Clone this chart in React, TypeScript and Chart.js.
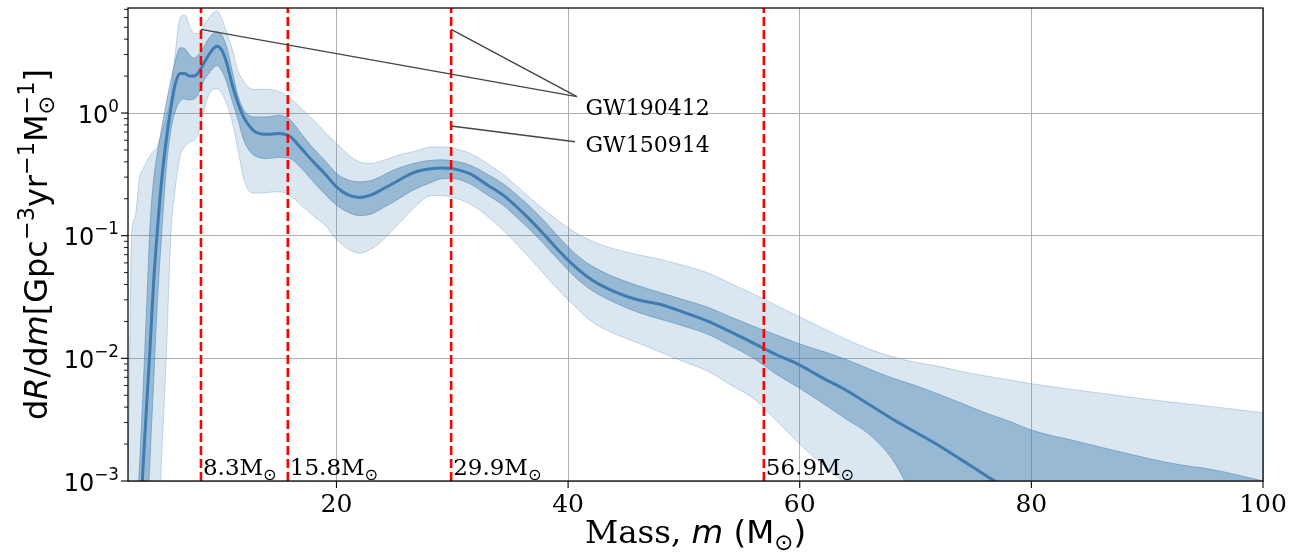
import React, { useEffect, useRef } from "react";
import { Chart, registerables } from "chart.js";

Chart.register(...registerables);

// ---------------- data ----------------
const MASS = [
  2.0, 2.15, 2.3, 2.6, 3.0, 3.3, 3.6, 3.9, 4.2, 4.5,
  4.9, 5.3, 5.7, 6.1, 6.5, 6.9, 7.3, 7.7, 8.1, 8.5,
  8.9, 9.3, 9.7, 10.1, 10.5, 11.0, 11.5, 12.0, 12.5, 13.0,
  14, 15, 16, 17, 18, 19, 20, 21, 22, 23,
  24, 25, 26, 27, 28, 29, 30,
  31.5, 33, 34.5, 36, 37.5, 39, 40.5, 42,
  44, 46, 48, 50, 52, 54, 56, 58, 60, 62,
  64, 66, 68, 70, 72, 74, 76, 78, 80,
  84, 88, 92, 96, 100,
];

const MEDIAN = [
  1e-5, 1.5e-5, 2.2e-5, 6e-5, 3.5e-4, 1.3e-3, 4e-3, 0.012, 0.04, 0.1,
  0.28, 0.6, 1.1, 1.75, 2.1, 2.1, 2.0, 2.0, 2.15, 2.5,
  2.9, 3.3, 3.5, 3.25, 2.6, 1.7, 1.2, 0.92, 0.78, 0.7,
  0.67, 0.68, 0.64, 0.51, 0.4, 0.32, 0.25, 0.215, 0.205, 0.215,
  0.24, 0.27, 0.305, 0.335, 0.35, 0.357, 0.352,
  0.32, 0.26, 0.21, 0.157, 0.113, 0.079, 0.057, 0.044,
  0.035, 0.03, 0.0275, 0.0237, 0.0202, 0.0165, 0.0133, 0.0107, 0.0088, 0.0069,
  0.0055, 0.0042, 0.0032, 0.0025, 0.00195, 0.00148, 0.00112, 0.00085, 0.00065,
  0.0004, 0.00025, 0.00015, 0.0001, 0.00006,
];

const UPPER_50 = [
  3e-5, 4.5e-5, 8e-5, 3e-4, 1.4e-3, 5.5e-3, 0.025, 0.12, 0.28, 0.45,
  0.75, 1.2, 1.85, 2.7, 3.4, 3.35, 3.0, 2.8, 3.0, 3.4,
  3.95, 4.4, 4.6, 4.3, 3.5, 2.2, 1.38, 1.06, 0.95, 0.93,
  0.93, 0.96, 0.88, 0.67, 0.515, 0.41, 0.322, 0.285, 0.275, 0.282,
  0.31, 0.345, 0.372, 0.395, 0.41, 0.415, 0.408,
  0.377, 0.318, 0.26, 0.198, 0.146, 0.102, 0.073, 0.057,
  0.046, 0.0393, 0.0343, 0.03, 0.0262, 0.0218, 0.0183, 0.0155, 0.0131, 0.0114,
  0.0098, 0.0082, 0.0069, 0.006, 0.0051, 0.0043, 0.0036, 0.0031, 0.0026,
  0.0021, 0.0017, 0.0014, 0.00122, 0.001,
];

const LOWER_50 = [
  1e-6, 1.5e-6, 2e-6, 6e-6, 3e-5, 1e-4, 3.5e-4, 1.5e-3, 6e-3, 0.025,
  0.1, 0.35, 0.72, 1.05, 1.25, 1.3, 1.28, 1.3, 1.45, 1.8,
  2.05, 2.3, 2.44, 2.2, 1.8, 1.25, 0.88, 0.6, 0.49, 0.445,
  0.425, 0.435, 0.425, 0.352, 0.275, 0.218, 0.178, 0.155, 0.146, 0.15,
  0.168, 0.19, 0.218, 0.245, 0.267, 0.29, 0.293,
  0.265, 0.216, 0.174, 0.129, 0.094, 0.066, 0.047, 0.036,
  0.0285, 0.0238, 0.0208, 0.0183, 0.0158, 0.0127, 0.01, 0.0074, 0.0057, 0.0043,
  0.0032, 0.0024, 0.0015, 0.0007, 0.0004, 0.00025, 0.00015, 0.0001, 0.00007,
  0.00004, 0.00002, 0.00001, 0.000006, 0.000004,
];

const UPPER_90 = [
  0.0012, 0.0103, 0.1, 0.14, 0.3, 0.35, 0.4, 0.45, 0.49, 0.52,
  0.68, 0.92, 1.4, 3.2, 6.0, 6.3, 5.2, 4.45, 4.45, 5.1,
  5.8, 6.5, 6.8, 5.9, 4.6, 3.3, 2.2, 1.8, 1.6, 1.56,
  1.56, 1.5, 1.33, 1.08, 0.88, 0.7, 0.566, 0.46, 0.4, 0.388,
  0.41, 0.443, 0.47, 0.495, 0.525, 0.53, 0.518,
  0.47, 0.39, 0.31, 0.234, 0.175, 0.136, 0.108, 0.091,
  0.078, 0.07, 0.064, 0.057, 0.05, 0.041, 0.0335, 0.027, 0.0218, 0.0176,
  0.0143, 0.0119, 0.0103, 0.0093, 0.0086, 0.0078, 0.0072, 0.0067, 0.0062,
  0.0055, 0.0049, 0.0044, 0.004, 0.0036,
];

const LOWER_90 = [
  1e-7, 1e-7, 1e-7, 1e-7, 1e-7, 1e-7, 1e-6, 5e-6, 3e-5, 2e-4,
  0.0015, 0.01, 0.1, 0.25, 0.44, 0.53, 0.58, 0.6, 0.69, 1.0,
  1.35, 1.55, 1.58, 1.45, 1.2, 0.85, 0.5, 0.29, 0.23, 0.222,
  0.225, 0.228, 0.212, 0.175, 0.145, 0.122, 0.093, 0.078, 0.072, 0.078,
  0.092, 0.115, 0.145, 0.18, 0.21, 0.213, 0.205,
  0.182, 0.145, 0.108, 0.077, 0.054, 0.0375, 0.027, 0.02,
  0.0159, 0.0134, 0.0112, 0.0094, 0.0079, 0.0061, 0.0047, 0.0031, 0.002, 0.00135,
  0.00095, 0.0007, 0.0005, 0.00035, 0.00025, 0.00018, 0.00013, 0.0001, 0.00007,
  0.00004, 0.00002, 0.00001, 0.000006, 0.000004,
];

const VLINE_MASSES = [8.3, 15.8, 29.9, 56.9];

const X_MIN = 2;
const X_MAX = 100;
const Y_MIN = 1e-3;
const Y_MAX = 7.18;
const X_TICKS = [20, 40, 60, 80, 100];
const Y_TICK_EXPONENTS = [-3, -2, -1, 0];

// annotation: label, text anchor (mass, rate at baseline), line starts, line end
const ANNOT_LABELS = ["GW190412", "GW150914"];
const ANNOT_TEXT_POS = [
  [41.5, 0.963],
  [41.5, 0.484],
];
const ANNOT_LINE_END = [
  [40.76, 1.36],
  [40.6, 0.583],
];
const ANNOT_LINE_STARTS = [
  [
    [8.3, 4.81],
    [29.9, 4.81],
  ],
  [[29.9, 0.783]],
];

// ---------------- helpers ----------------
type Run = { t: string; f: string; dy?: number; stack?: boolean };

function runsWidth(ctx: CanvasRenderingContext2D, runs: Run[]) {
  let w = 0;
  let pending = 0;
  for (const r of runs) {
    ctx.font = r.f;
    const rw = ctx.measureText(r.t).width;
    if (r.stack) pending = rw;
    else {
      w += Math.max(rw, pending);
      pending = 0;
    }
  }
  return w;
}

function drawRuns(ctx: CanvasRenderingContext2D, runs: Run[], x: number, y: number) {
  let cx = x;
  let pending = 0;
  for (const r of runs) {
    ctx.font = r.f;
    const rw = ctx.measureText(r.t).width;
    ctx.fillText(r.t, cx, y + (r.dy || 0));
    if (r.stack) pending = rw;
    else {
      cx += Math.max(rw, pending);
      pending = 0;
    }
  }
}

const SANS = '"DejaVu Sans"';
const SERIF = '"DejaVu Serif"';

const overlayPlugin = {
  id: "overlay",
  afterDraw(chart: any) {
    const { ctx, chartArea: a, scales } = chart;
    const xs = scales.x;
    const ys = scales.y;
    ctx.save();
    ctx.textAlign = "left";
    ctx.textBaseline = "alphabetic";
    ctx.fillStyle = "#000";

    // annotation lines
    ctx.strokeStyle = "#444";
    ctx.lineWidth = 1.4;
    ANNOT_LINE_STARTS.forEach((starts, i) => {
      const [ex, ey] = ANNOT_LINE_END[i];
      starts.forEach(([sx, sy]) => {
        ctx.beginPath();
        ctx.moveTo(xs.getPixelForValue(sx), ys.getPixelForValue(sy));
        ctx.lineTo(xs.getPixelForValue(ex), ys.getPixelForValue(ey));
        ctx.stroke();
      });
    });
    // annotation texts
    ctx.font = `22px ${SERIF}`;
    ANNOT_LABELS.forEach((lab, i) => {
      const [tx, ty] = ANNOT_TEXT_POS[i];
      ctx.fillText(lab, xs.getPixelForValue(tx), ys.getPixelForValue(ty));
    });

    // vertical line labels
    VLINE_MASSES.forEach((m) => {
      const px = xs.getPixelForValue(m);
      drawRuns(
        ctx,
        [
          { t: `${m.toFixed(1)}M`, f: `23px ${SERIF}` },
          { t: "\u2299", f: `16px ${SANS}`, dy: 4.5 },
        ],
        px + 2,
        a.bottom - 6
      );
    });

    // frame
    ctx.strokeStyle = "#000";
    ctx.lineWidth = 1.25;
    ctx.strokeRect(a.left, a.top, a.right - a.left, a.bottom - a.top);

    // x ticks + labels
    ctx.lineWidth = 1.1;
    ctx.font = `25px ${SERIF}`;
    ctx.textAlign = "center";
    X_TICKS.forEach((v) => {
      const px = xs.getPixelForValue(v);
      ctx.beginPath();
      ctx.moveTo(px, a.bottom);
      ctx.lineTo(px, a.bottom + 7);
      ctx.stroke();
      ctx.fillText(String(v), px, a.bottom + 31);
    });
    ctx.textAlign = "left";

    // y ticks (major + minor) + labels
    Y_TICK_EXPONENTS.forEach((e) => {
      const py = ys.getPixelForValue(Math.pow(10, e));
      ctx.beginPath();
      ctx.moveTo(a.left, py);
      ctx.lineTo(a.left - 7, py);
      ctx.stroke();
      const runs: Run[] = [
        { t: "10", f: `24px ${SANS}` },
        { t: e === 0 ? "0" : "\u2212" + Math.abs(e), f: `16.8px ${SANS}`, dy: -11 },
      ];
      const w = runsWidth(ctx, runs);
      drawRuns(ctx, runs, a.left - 9 - w, py + 9.5);
      for (let k = 2; k <= 9; k++) {
        const v = k * Math.pow(10, e);
        if (v > Y_MAX) break;
        const my = ys.getPixelForValue(v);
        ctx.beginPath();
        ctx.lineWidth = 0.9;
        ctx.moveTo(a.left, my);
        ctx.lineTo(a.left - 4, my);
        ctx.stroke();
        ctx.lineWidth = 1.1;
      }
    });

    // x title
    const xf = 32.5;
    const xRuns: Run[] = [
      { t: "Mass, ", f: `${xf}px ${SERIF}` },
      { t: "m", f: `italic ${xf}px ${SANS}` },
      { t: " (M", f: `${xf}px ${SANS}` },
      { t: "\u2299", f: `${(xf * 0.7).toFixed(1)}px ${SANS}`, dy: 0.2 * xf },
      { t: ")", f: `${xf}px ${SANS}` },
    ];
    const xw = runsWidth(ctx, xRuns);
    drawRuns(ctx, xRuns, (a.left + a.right) / 2 - xw / 2, a.bottom + 62);

    // y title
    const fs = 32;
    const S = `${fs}px ${SANS}`;
    const I = `italic ${fs}px ${SANS}`;
    const s = `${(fs * 0.7).toFixed(1)}px ${SANS}`;
    const up = -0.42 * fs;
    const yRuns: Run[] = [
      { t: "d", f: S },
      { t: "R", f: I },
      { t: "/d", f: S },
      { t: "m", f: I },
      { t: "[Gpc", f: S },
      { t: "\u22123", f: s, dy: up },
      { t: "yr", f: S },
      { t: "\u22121", f: s, dy: up },
      { t: "M", f: S },
      { t: "\u2299", f: s, dy: 0.22 * fs, stack: true },
      { t: "\u22121", f: s, dy: up },
      { t: "]", f: S },
    ];
    const yw = runsWidth(ctx, yRuns);
    ctx.translate(47, (a.top + a.bottom) / 2);
    ctx.rotate(-Math.PI / 2);
    drawRuns(ctx, yRuns, -yw / 2, 0);

    ctx.restore();
  },
};

function pts(values: number[]) {
  return MASS.map((m, i) => ({ x: m, y: values[i] }));
}

export default function App() {
  const ref = useRef<HTMLCanvasElement>(null);
  useEffect(() => {
    document.body.style.margin = "0";
    const light = "rgba(70,130,180,0.2)";
    const lightEdge = "rgba(70,130,180,0.28)";
    const dark = "rgba(70,130,180,0.45)";
    const darkEdge = "rgba(70,130,180,0.5)";
    const band = {
      pointRadius: 0,
      borderWidth: 1,
      cubicInterpolationMode: "monotone" as const,
      capBezierPoints: false,
    };
    const datasets: any[] = [
      { ...band, data: pts(LOWER_90), borderColor: lightEdge, fill: false, order: 3 },
      { ...band, data: pts(UPPER_90), borderColor: lightEdge, backgroundColor: light, fill: "-1", order: 3 },
      { ...band, data: pts(LOWER_50), borderColor: darkEdge, fill: false, order: 2 },
      { ...band, data: pts(UPPER_50), borderColor: darkEdge, backgroundColor: dark, fill: "-1", order: 2 },
      {
        data: pts(MEDIAN),
        borderColor: "rgb(64,124,178)",
        borderWidth: 3,
        pointRadius: 0,
        fill: false,
        cubicInterpolationMode: "monotone",
        capBezierPoints: false,
        order: 1,
      },
      ...VLINE_MASSES.map((m) => ({
        data: [
          { x: m, y: Y_MIN },
          { x: m, y: Y_MAX },
        ],
        borderColor: "#ff0000",
        borderWidth: 2.6,
        borderDash: [9, 4],
        pointRadius: 0,
        fill: false,
        order: 0,
      })),
    ];
    const grid = { color: "#b0b0b0", lineWidth: 1, drawTicks: false };
    const chart = new Chart(ref.current as HTMLCanvasElement, {
      type: "line",
      data: { datasets },
      options: {
        animation: false,
        responsive: false,
        layout: { padding: { left: 128, right: 33, top: 8, bottom: 72 } },
        plugins: {
          legend: { display: false },
          tooltip: { enabled: false },
        },
        scales: {
          x: {
            type: "linear",
            min: X_MIN,
            max: X_MAX,
            afterBuildTicks: (sc: any) => {
              sc.ticks = X_TICKS.map((v) => ({ value: v }));
            },
            ticks: { display: false },
            grid,
            border: { display: false },
          },
          y: {
            type: "logarithmic",
            min: Y_MIN,
            max: Y_MAX,
            afterBuildTicks: (sc: any) => {
              sc.ticks = Y_TICK_EXPONENTS.map((e) => ({ value: Math.pow(10, e) }));
            },
            ticks: { display: false },
            grid,
            border: { display: false },
          },
        },
      } as any,
      plugins: [overlayPlugin],
    });
    return () => chart.destroy();
  }, []);
  return (
    <div style={{ position: "fixed", left: 0, top: 0, width: 1296, height: 553, background: "#fff" }}>
      <canvas ref={ref} width={1296} height={553} style={{ display: "block" }} />
    </div>
  );
}
